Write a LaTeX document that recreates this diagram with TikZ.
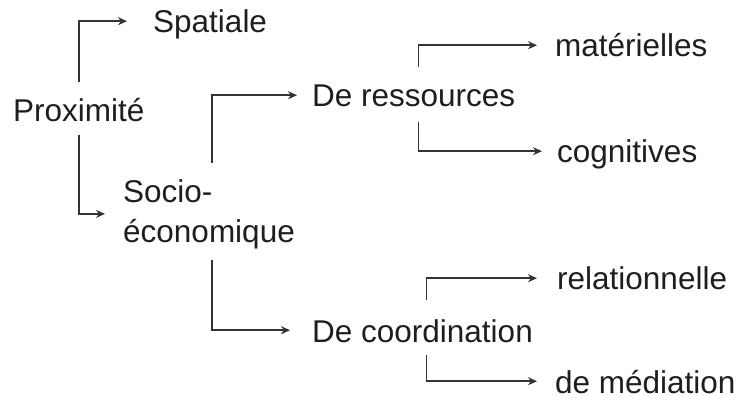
\documentclass[tikz,border=0pt]{standalone}
\usepackage{fontspec}
\setmainfont{Liberation Sans}
\usetikzlibrary{arrows.meta,positioning}
\definecolor{inkgray}{HTML}{1E1E1E}
\definecolor{linegray}{HTML}{333333}
\tikzset{term/.style={anchor=base west, inner sep=0pt, text height=23.6pt, text depth=0pt, text=inkgray}}
\tikzset{link/.style={-{Stealth[length=9pt,width=8pt]}, draw=linegray, line width=1.5pt}}

\begin{document}
\begin{tikzpicture}[x=1pt, y=-1pt, font=\fontsize{31.5}{40}\selectfont]
\useasboundingbox (0,0) rectangle (740,401);
% termes
\node[term] (prox) at (13,122) {Proximité};
\node[term] (spat) at (153,33) {Spatiale};
\node[anchor=north west, inner sep=0pt, align=left, text=inkgray] (socio) at (123,179) {Socio-\\économique};
\node[term] (res) at (312,107) {De ressources};
\node[term] (coord) at (312,342) {De coordination};
\node[term] (mat) at (555,57) {matérielles};
\node[term] (cog) at (557,163) {cognitives};
\node[term] (rel) at (557,290) {relationnelle};
\node[term] (med) at (555,393) {de médiation};
% liens
\draw[link, shorten <=16pt, shorten >=26pt] (prox.north) |- (spat.west);
\draw[link, shorten <=13pt, shorten >=18pt] (prox.south) |- (socio.west);
\draw[link, shorten <=16pt, shorten >=15pt] ([xshift=3pt]socio.north) |- (res.west);
\draw[link, shorten <=11pt, shorten >=22pt] ([xshift=3pt]socio.south) |- (coord.west);
\draw[link, shorten <=16pt, shorten >=18pt] ([xshift=5pt]res.north) |- (mat.west);
\draw[link, shorten <=15pt, shorten >=15pt] ([xshift=5pt]res.south) |- (cog.west);
\draw[link, shorten <=18pt, shorten >=20pt] ([xshift=4pt]coord.north) |- (rel.west);
\draw[link, shorten <=13pt, shorten >=18pt] ([xshift=4pt]coord.south) |- (med.west);
\end{tikzpicture}
\end{document}
